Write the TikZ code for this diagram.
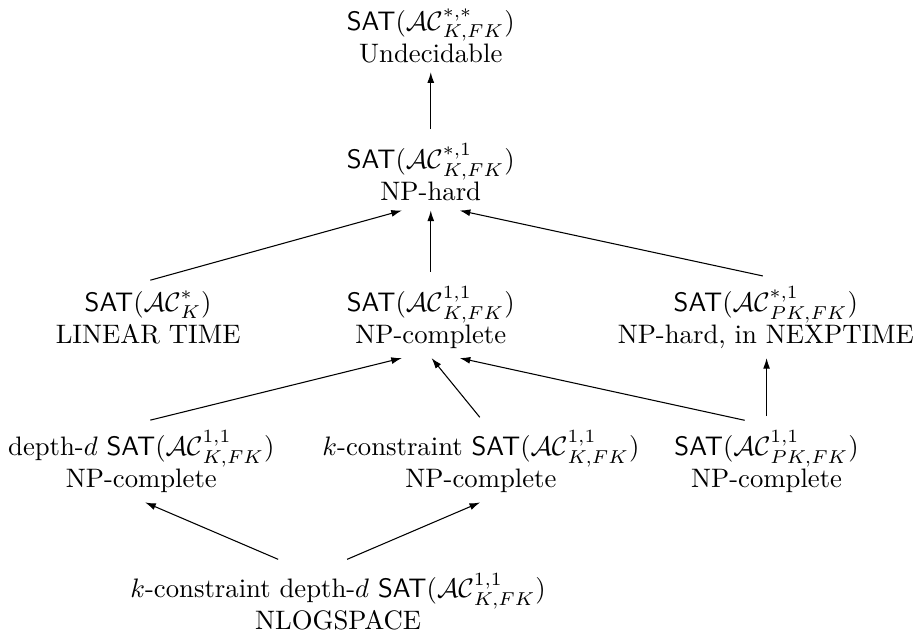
\documentclass[tikz,border=0pt]{standalone}
\usepackage{amssymb}
\usetikzlibrary{arrows.meta}
\usetikzlibrary{positioning}

\newcommand{\sat}{\textsf{SAT}}
\newcommand{\ac}{\mathcal{AC}}

\tikzset{
  klasse/.style={align=center},
  pfeil/.style={-{Latex[length=4pt,width=2.6pt]},line width=0.4pt,shorten <=2pt}
}

\begin{document}
\begin{tikzpicture}
  \useasboundingbox (0,0) rectangle (12.07,8.46);

  % Oberste Ebenen
  \node[klasse] (undec) at (5.67,7.99) {\sat($\ac^{*,*}_{K,FK}$)\\Undecidable};
  \node[klasse] (hard) at (5.67,6.19) {\sat($\ac^{*,1}_{K,FK}$)\\NP-hard};

  % Mittlere Ebene
  \node[klasse] (lin) at (1.95,4.28) {\sat($\ac^{*}_{K}$)\\LINEAR TIME};
  \node[klasse] (npc) at (5.67,4.28) {\sat($\ac^{1,1}_{K,FK}$)\\NP-complete};
  \node[klasse] (nexp) at (10.08,4.28) {\sat($\ac^{*,1}_{PK,FK}$)\\NP-hard, in NEXPTIME};

  % Eingeschraenkte Varianten
  \node[klasse] (depth) at (1.86,2.38) {depth-$d$ \sat($\ac^{1,1}_{K,FK}$)\\NP-complete};
  \node[klasse] (kcons) at (6.33,2.38) {$k$-constraint \sat($\ac^{1,1}_{K,FK}$)\\NP-complete};
  \node[klasse] (pk) at (10.09,2.38) {\sat($\ac^{1,1}_{PK,FK}$)\\NP-complete};

  % Unterste Ebene
  \node[klasse] (nlog) at (4.45,0.54) {$k$-constraint depth-$d$ \sat($\ac^{1,1}_{K,FK}$)\\NLOGSPACE};

  % Pfeile
  \draw[pfeil] (hard.north) -- (undec.south);
  \draw[pfeil] ([xshift=-0.04cm]lin.north) -- ([xshift=-0.38cm]hard.south);
  \draw[pfeil] (npc.north) -- (hard.south);
  \draw[pfeil] ([xshift=0.03cm]nexp.north) -- ([xshift=0.38cm]hard.south);
  \draw[pfeil] ([xshift=0.05cm]depth.north) -- ([xshift=-0.38cm]npc.south);
  \draw[pfeil] ([xshift=0.03cm]kcons.north) -- ([xshift=0.01cm]npc.south);
  \draw[pfeil] ([xshift=-0.22cm]pk.north) -- ([xshift=0.38cm]npc.south);
  \draw[pfeil] (pk.north) -- (pk.north |- nexp.south);
  \draw[pfeil,shorten <=4pt] ([xshift=-0.66cm]nlog.north) -- ([xshift=0.05cm]depth.south);
  \draw[pfeil,shorten <=4pt] ([xshift=-0.01cm]nlog.north) -- ([xshift=-0.01cm]kcons.south);
\end{tikzpicture}
\end{document}
